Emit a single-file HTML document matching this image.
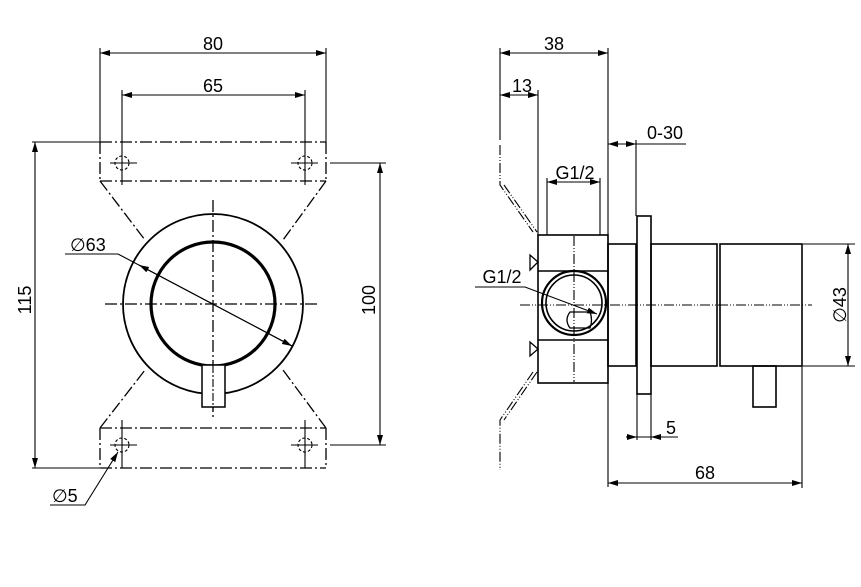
<!DOCTYPE html>
<html><head><style>html,body{margin:0;padding:0;background:#fff}svg{display:block}</style></head><body>
<svg width="861" height="587" viewBox="0 0 861 587" xmlns="http://www.w3.org/2000/svg" font-family="Liberation Sans, sans-serif" font-size="18" fill="none" stroke="#000">
<defs>
<marker id="a" viewBox="0 0 10 6" refX="10" refY="3" markerWidth="10" markerHeight="6" orient="auto-start-reverse" markerUnits="userSpaceOnUse"><path d="M0,0L10,3L0,6Z" fill="#000" stroke="none"/></marker>
</defs>
<g stroke-width="1.1">
<g stroke-dasharray="12,3,2,3" stroke-width="1.3">
<path d="M100,142H326M100,181H326M100,142V181M326,142V181"/>
<path d="M100,428H326M100,468H326M100,428V468M326,428V468"/>
<path d="M100,181L145,240M326,181L283,240M100,428L145,370M326,428L283,370"/>
<path d="M213,200V420M105,304H320"/>
</g>
<path d="M100,48V142M326,48V142M122,90V185M305,90V185M122,420V468M305,420V468"/>
<path d="M110,163H137M291,163H318M110,445H137M291,445H318" />
<circle cx="122" cy="163" r="7" stroke-dasharray="3,2"/>
<circle cx="305" cy="163" r="7" stroke-dasharray="3,2"/>
<circle cx="122" cy="445" r="7" stroke-dasharray="3,2"/>
<circle cx="305" cy="445" r="7" stroke-dasharray="3,2"/>
<path d="M100,53H326" marker-start="url(#a)" marker-end="url(#a)"/>
<path d="M122,95H305" marker-start="url(#a)" marker-end="url(#a)"/>
<path d="M32,142H100M32,468H100"/>
<path d="M35,142V468" marker-start="url(#a)" marker-end="url(#a)"/>
<path d="M330,163H386M330,445H386"/>
<path d="M380,163V445" marker-start="url(#a)" marker-end="url(#a)"/>
<circle cx="213" cy="304" r="90" stroke-width="1.8"/>
<circle cx="213" cy="304" r="62" stroke-width="3.2"/>
<rect x="202" y="365" width="23" height="42" fill="#fff" stroke-width="1.5"/>
<path d="M213,365V412" stroke-dasharray="8,2,2,2"/>
<path d="M65,254H118L292,346" marker-end="url(#a)"/>
<path d="M292,346L139,265" marker-end="url(#a)"/>
<path d="M50,505H85L118,452" marker-end="url(#a)"/>

<path d="M500,48V140M538,90V235M608,48V487M636,140V216M637,394V440M651,394V440M547,178V235M600,178V235M802,366V488M803,244H855M803,366H855"/>
<path d="M500,53H608" marker-start="url(#a)" marker-end="url(#a)"/>
<path d="M500,95H538" marker-start="url(#a)" marker-end="url(#a)"/>
<path d="M608,144H636" marker-start="url(#a)" marker-end="url(#a)"/>
<path d="M636,144H686"/>
<path d="M547,182H600" marker-start="url(#a)" marker-end="url(#a)"/>
<path d="M848,244V366" marker-start="url(#a)" marker-end="url(#a)"/>
<path d="M608,483H802" marker-start="url(#a)" marker-end="url(#a)"/>
<path d="M626,437H637" marker-end="url(#a)"/>
<path d="M661,437H651" marker-end="url(#a)"/>
<path d="M637,437H678"/>
<g stroke-dasharray="10,2,1,2,1,2">
<path d="M500,145V185L533,232M533,372L500,420V470"/>
<path d="M504,185L537,232M537,372L504,420"/>
<path d="M520,305H812M574,236V382"/>
</g>
<g stroke-width="1.6">
<rect x="538" y="235" width="70" height="148" fill="none"/>
<path d="M538,271H608M538,340H608"/>
<rect x="608" y="244" width="28" height="122"/>
<rect x="637" y="216" width="14" height="178"/>
<rect x="651" y="244" width="66" height="122"/>
<rect x="720" y="244" width="82" height="122"/>
<rect x="753" y="366" width="23" height="41"/>
<circle cx="574" cy="303" r="32" stroke-width="2.2"/>
<circle cx="574" cy="303" r="28"/>
<path d="M570,312H590Q593,320 590,328H570Q564,320 570,312Z" stroke-width="1.3"/>
<path d="M530,255L538,262L530,270Z M530,342L538,349L530,356Z" stroke-width="1.3"/>
</g>
<path d="M475,287H525L597,314" marker-end="url(#a)"/>
</g>
<g fill="#000" stroke="none">
<text x="213" y="50" text-anchor="middle">80</text>
<text x="213" y="92" text-anchor="middle">65</text>
<text x="70" y="251">∅63</text>
<text x="52" y="502">∅5</text>
<text transform="translate(31,300) rotate(-90)" text-anchor="middle">115</text>
<text transform="translate(375,300) rotate(-90)" text-anchor="middle">100</text>
<text x="554" y="50" text-anchor="middle">38</text>
<text x="522" y="92" text-anchor="middle">13</text>
<text x="665" y="139" text-anchor="middle">0-30</text>
<text x="575" y="179" text-anchor="middle">G1/2</text>
<text x="502" y="283" text-anchor="middle">G1/2</text>
<text x="671" y="434" text-anchor="middle">5</text>
<text x="705" y="479" text-anchor="middle">68</text>
<text transform="translate(846,305) rotate(-90)" text-anchor="middle">∅43</text>
</g>
</svg>
</body></html>
